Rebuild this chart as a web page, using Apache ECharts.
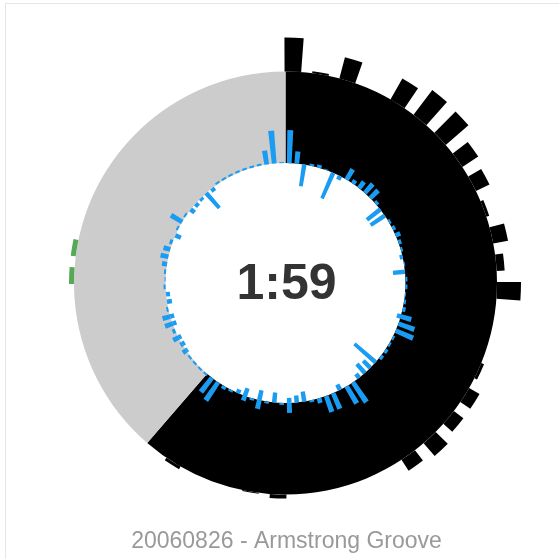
<!DOCTYPE html>
<html>
<head>
<meta charset="utf-8">
<script src="https://cdn.jsdelivr.net/npm/echarts@6/dist/echarts.min.js"></script>
<style>
html,body{margin:0;padding:0;background:#fff;overflow:hidden;}
#frame{position:absolute;left:5px;top:3px;width:620px;height:620px;border:1px solid #e6e6e6;box-sizing:border-box;}
#chart{position:absolute;left:0;top:0;width:559px;height:559px;}
</style>
</head>
<body>
<div id="frame"></div>
<div id="chart"></div>
<script>
// ---- data ----
const trackTitle = '20060826 - Armstrong Groove';
const elapsedSec = 119;
const totalSec = 194;

// inner waveform ring: 100 angular slots, outward (positive) and inward (negative) parts
const waveSlots = Array.from({length: 100}, (_, i) => i);
const waveOut = [
  33,12,0,2,3,1,0,0,12,4,
  8,12,11,3,0,0,2,3,5,3,
  2,0,1,0,2,2,1,2,3,11,
  17,19,2,2,3,3,0,0,0,0,
  24,20,0,17,17,5,2,0,0,10,
  2,0,2,9,2,5,0,2,3,22,
  18,2,2,2,2,4,2,6,3,8,
  8,2,0,0,2,1,2,5,8,7,
  3,0,2,13,2,0,0,0,0,0,
  2,2,2,2,2,2,2,14,33,1
];
const waveIn = [
  0,0,-22,0,0,0,-28,-4,0,0,
  0,0,0,0,-17,-17,0,0,0,0,
  0,-3,0,-12,0,0,0,0,0,-4,
  0,0,0,0,0,0,-28,-10,-12,-5,
  0,0,-6,0,0,0,0,-10,-7,-5,
  0,-10,0,-10,0,-8,-4,0,0,0,
  0,0,0,0,0,-2,-3,-3,0,-4,
  -4,0,-5,-4,0,0,0,0,0,0,
  0,-6,0,0,0,-5,-4,-3,-20,-4,
  0,0,0,0,0,0,0,0,0,0
];

// outer ring: 48 angular slots
const outerSlots = Array.from({length: 48}, (_, i) => i);
const outerBars = [
  34,2,22,0,24,31,30,19,15,3,15,8,
  24,0,0,3,12,12,17,13,0,0,0,0,
  4,1,0,0,3,0,0,0,0,0,0,0,
  5,5,0,0,0,0,0,0,0,0,0,0
];

// ---- chart ----
const cx = 285.5, cy = 283;
const playedAngle = elapsedSec / totalSec * 360;
function fmt(s){ const m = Math.floor(s/60), r = s % 60; return m + ':' + (r < 10 ? '0' : '') + r; }

const chart = echarts.init(document.getElementById('chart'), null, {renderer: 'canvas'});
chart.setOption({
  animation: false,
  backgroundColor: 'transparent',
  polar: [
    {center: [cx, cy], radius: [80, 160]},
    {center: [cx, cy], radius: [211.5, 260]}
  ],
  angleAxis: [
    {polarIndex: 0, type: 'category', data: waveSlots, startAngle: 90, clockwise: true, show: false},
    {polarIndex: 1, type: 'category', data: outerSlots, startAngle: 91.75, clockwise: true, show: false}
  ],
  radiusAxis: [
    {polarIndex: 0, type: 'value', min: -40, max: 40, show: false},
    {polarIndex: 1, type: 'value', min: 0, max: 48.5, show: false}
  ],
  series: [
    {
      type: 'pie', z: 1, center: [cx, cy], radius: [120, 211.5], startAngle: 90, clockwise: true,
      silent: true, label: {show: false}, labelLine: {show: false},
      itemStyle: {borderWidth: 0},
      data: [
        {value: elapsedSec, itemStyle: {color: '#000000'}},
        {value: totalSec - elapsedSec, itemStyle: {color: '#cccccc'}}
      ]
    },
    {
      type: 'bar', z: 5, coordinateSystem: 'polar', polarIndex: 0, stack: 'wave',
      data: waveOut, barWidth: '62%', silent: true,
      itemStyle: {color: '#1a9cf2'}
    },
    {
      type: 'bar', z: 5, coordinateSystem: 'polar', polarIndex: 0, stack: 'wave',
      data: waveIn, barWidth: '62%', silent: true,
      itemStyle: {color: '#1a9cf2'}
    },
    {
      type: 'bar', z: 5, coordinateSystem: 'polar', polarIndex: 1,
      data: outerBars, barWidth: '60%', silent: true,
      itemStyle: {
        color: function (p) { return (p.dataIndex * 7.5 + 2) > playedAngle ? '#56aa56' : '#000000'; }
      }
    }
  ],
  graphic: [
    {
      type: 'text', x: cx + 1, y: cy + 2, silent: true, z: 10,
      style: {
        text: fmt(elapsedSec), fill: '#333333',
        font: 'bold 50px "Liberation Sans", Arial, sans-serif',
        textAlign: 'center', textVerticalAlign: 'middle'
      }
    },
    {
      type: 'text', x: 286.5, y: 542, silent: true, z: 10,
      style: {
        text: trackTitle, fill: '#999999',
        font: '23px "Liberation Sans", Arial, sans-serif',
        textAlign: 'center', textVerticalAlign: 'middle'
      }
    }
  ]
});
</script>
</body>
</html>
